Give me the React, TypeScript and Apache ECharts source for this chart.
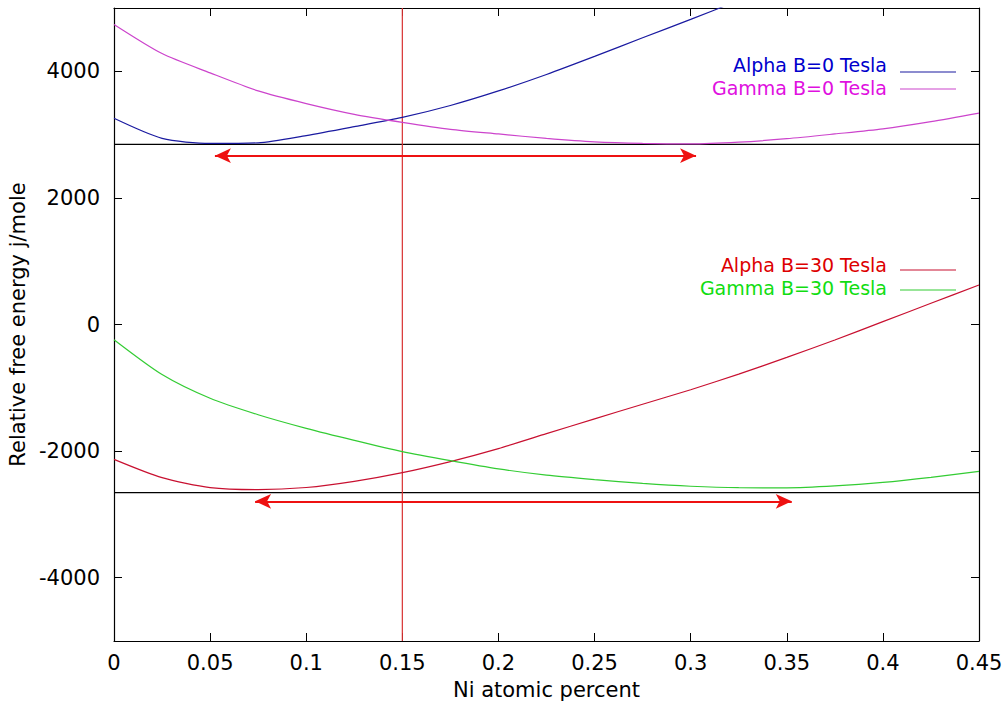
import React, { useEffect, useRef } from "react";
import * as echarts from "echarts";

// Composition (Ni atomic fraction) sample points
const xs = [0, 0.025, 0.05, 0.075, 0.1, 0.125, 0.15, 0.175, 0.2, 0.225, 0.25, 0.275, 0.3, 0.325, 0.35, 0.375, 0.4, 0.425, 0.45];

// Relative free energy (J/mole)
const alphaB0 = [3257, 2940, 2860, 2870, 2985, 3125, 3272, 3460, 3690, 3950, 4235, 4530, 4820, 5120];
const gammaB0 = [4740, 4280, 3975, 3690, 3490, 3320, 3194, 3083, 3010, 2940, 2885, 2860, 2852, 2880, 2935, 3010, 3090, 3205, 3340];
const alphaB30 = [-2130, -2420, -2577, -2609, -2575, -2478, -2340, -2165, -1960, -1725, -1490, -1260, -1030, -785, -520, -245, 45, 335, 625];
const gammaB30 = [-240, -790, -1165, -1425, -1640, -1830, -2008, -2150, -2280, -2380, -2450, -2510, -2555, -2578, -2580, -2550, -2495, -2415, -2320];

// Reference lines
const xRange = [0, 0.45];
const tangentB0 = 2846;
const tangentB30 = -2656;
const markerX = 0.15;
const yRange = [-5000, 5000];

// Arrows: [xStart, xEnd, y]
const arrowB0 = [0.0525, 0.3028, 2667];
const arrowB30 = [0.0734, 0.3526, -2793];

// Axis ticks
const yTicks = [-4000, -2000, 0, 2000, 4000];

// Legend
const legendLabels = ["Alpha B=0 Tesla", "Gamma B=0 Tesla", "Alpha B=30 Tesla", "Gamma B=30 Tesla"];

const textColors = ["#0000cc", "#e010e0", "#dd0000", "#11dd11"];
const lineColors = ["#1a1aa0", "#cc44cc", "#c81030", "#33cc33"];
const FONT = "DejaVu Sans";

function pairs(vals: number[]) {
  return vals.map((v, i) => [xs[i], v]);
}

export default function App() {
  const ref = useRef<HTMLDivElement>(null);
  useEffect(() => {
    if (!ref.current) return;
    const chart = echarts.init(ref.current, undefined, { renderer: "svg" });
    const curves = [alphaB0, gammaB0, alphaB30, gammaB30];
    const legendRows = [
      { ty: 65, ly: 72 },
      { ty: 88, ly: 89 },
      { ty: 265, ly: 270 },
      { ty: 288, ly: 290 },
    ];
    const graphic: any[] = [];
    legendLabels.forEach((lab, i) => {
      graphic.push({
        type: "text",
        x: 887,
        y: legendRows[i].ty,
        style: {
          text: lab,
          fill: textColors[i],
          fontSize: 19,
          lineHeight: 19,
          fontFamily: FONT,
          textAlign: "right",
          textVerticalAlign: "middle",
        },
        z: 100,
      });
      graphic.push({
        type: "line",
        shape: { x1: 900, y1: legendRows[i].ly, x2: 956, y2: legendRows[i].ly },
        style: { stroke: lineColors[i], lineWidth: 1.2 },
        z: 100,
      });
    });

    const axisLine = { show: true, onZero: false, lineStyle: { color: "#000", width: 1.2 } };
    const option: any = {
      animation: false,
      backgroundColor: "#fff",
      grid: { left: 114, right: 29, top: 8, bottom: 65, containLabel: false, outerBoundsMode: "none" },
      xAxis: [
        {
          type: "value",
          min: xRange[0],
          max: xRange[1],
          interval: 0.05,
          position: "bottom",
          axisLine,
          axisTick: { show: true, inside: true, length: 8, lineStyle: { color: "#000" } },
          axisLabel: {
            fontSize: 21,
            fontFamily: FONT,
            color: "#000",
            margin: 11,
            formatter: (v: number) => String(+v.toFixed(2)),
          },
          splitLine: { show: false },
          name: "Ni atomic percent",
          nameLocation: "middle",
          nameGap: 38,
          nameTextStyle: { fontSize: 21, fontFamily: FONT, color: "#000" },
        },
        {
          type: "value",
          min: xRange[0],
          max: xRange[1],
          interval: 0.05,
          position: "top",
          axisLine,
          axisTick: { show: true, inside: true, length: 8, lineStyle: { color: "#000" } },
          axisLabel: { show: false },
          splitLine: { show: false },
        },
      ],
      yAxis: [
        {
          type: "value",
          min: yRange[0],
          max: yRange[1],
          position: "left",
          axisLine,
          axisTick: { show: true, inside: true, length: 8, customValues: yTicks, lineStyle: { color: "#000" } },
          axisLabel: {
            customValues: yTicks,
            fontSize: 21,
            fontFamily: FONT,
            color: "#000",
            margin: 14,
            formatter: (v: number) => String(v),
          },
          splitLine: { show: false },
          name: "Relative free energy j/mole",
          nameLocation: "middle",
          nameGap: 77,
          nameRotate: 90,
          nameTextStyle: { fontSize: 21, fontFamily: FONT, color: "#000" },
        },
        {
          type: "value",
          min: yRange[0],
          max: yRange[1],
          position: "right",
          axisLine,
          axisTick: { show: true, inside: true, length: 8, customValues: yTicks, lineStyle: { color: "#000" } },
          axisLabel: { show: false },
          splitLine: { show: false },
        },
      ],
      series: [
        ...curves.map((c, i) => ({
          type: "line",
          name: legendLabels[i],
          data: pairs(c),
          smooth: 0.25,
          showSymbol: false,
          clip: true,
          lineStyle: { color: lineColors[i], width: 1.2 },
          itemStyle: { color: lineColors[i] },
          z: 3,
        })),
        {
          type: "line",
          name: "tangentB0",
          data: [[xRange[0], tangentB0], [xRange[1], tangentB0]],
          showSymbol: false,
          lineStyle: { color: "#000", width: 1.2 },
          z: 2,
        },
        {
          type: "line",
          name: "tangentB30",
          data: [[xRange[0], tangentB30], [xRange[1], tangentB30]],
          showSymbol: false,
          lineStyle: { color: "#000", width: 1.2 },
          z: 2,
        },
        {
          type: "line",
          name: "marker",
          data: [[markerX, yRange[0]], [markerX, yRange[1]]],
          showSymbol: false,
          lineStyle: { color: "#d83030", width: 1.2 },
          z: 2,
        },
        {
          type: "line",
          name: "arrows",
          data: [],
          markLine: {
            silent: true,
            symbol: ["arrow", "arrow"],
            symbolSize: [11, 16],
            label: { show: false },
            lineStyle: { color: "#ee1111", width: 2, type: "solid" },
            data: [
              [{ coord: [arrowB0[0], arrowB0[2]] }, { coord: [arrowB0[1], arrowB0[2]] }],
              [{ coord: [arrowB30[0], arrowB30[2]] }, { coord: [arrowB30[1], arrowB30[2]] }],
            ],
          },
          z: 4,
        },
      ],
      graphic,
    };
    chart.setOption(option);
    return () => chart.dispose();
  }, []);
  return (
    <div
      ref={ref}
      style={{ position: "fixed", left: 0, top: 0, width: 1008, height: 706, background: "#fff" }}
    />
  );
}
